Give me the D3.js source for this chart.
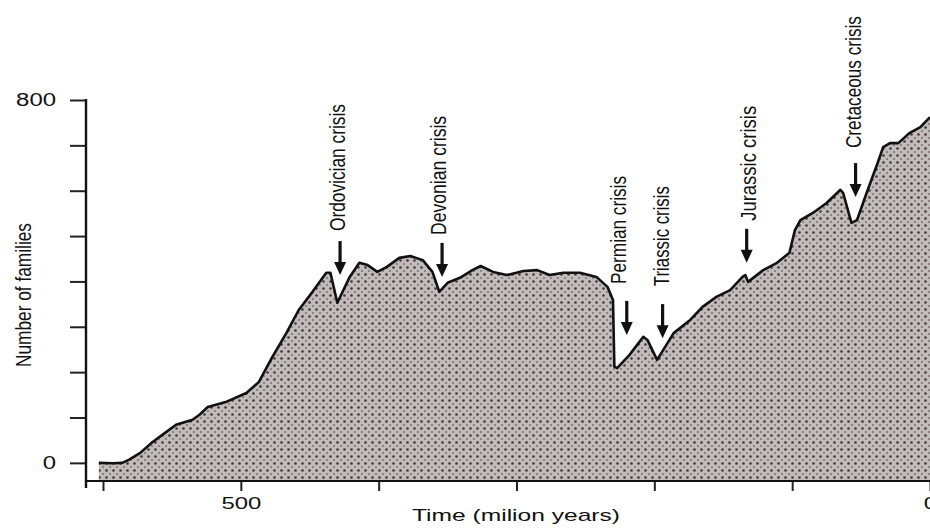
<!DOCTYPE html>
<html>
<head>
<meta charset="utf-8">
<script src="https://cdn.jsdelivr.net/npm/d3@7/dist/d3.min.js"></script>
<style>
  html, body { margin: 0; padding: 0; background: #fff; }
  svg { display: block; }
  text { font-family: "Liberation Sans", Arial, sans-serif; fill: #111; }
</style>
</head>
<body>
<svg id="chart" width="930" height="528"></svg>
<script>
// ---- data (time in million years ago, number of families) ----
const times = [603, 593, 586, 581, 573, 564, 555, 547, 535, 530, 524, 511, 496, 487, 477, 467, 458, 448, 438, 435, 430,
  421, 414, 408, 401, 394, 385, 377, 368, 361, 356, 350, 341, 332, 326, 317, 307, 295, 285, 276, 266, 254, 242, 234, 230,
  229, 227, 218, 208, 205, 198, 186, 174, 165, 155, 145, 136, 134, 132, 121, 111, 102, 98, 94, 85, 75, 65, 63, 57, 53,
  46, 38, 34, 29, 23, 15, 7, 0];
const families = [0, -1, 0, 7, 22, 46, 66, 84, 95, 106, 123, 134, 154, 178, 234, 286, 337, 377, 419, 419, 353,
  410, 441, 436, 421, 432, 452, 456, 447, 421, 377, 397, 408, 425, 434, 421, 414, 423, 425, 414, 419, 419, 410, 388, 359,
  212, 209, 238, 278, 271, 227, 286, 315, 344, 366, 381, 410, 414, 399, 425, 441, 463, 513, 535, 551, 573, 602, 595, 529, 535,
  595, 661, 696, 705, 705, 727, 740, 762];

const crisisNames = ["Ordovician crisis", "Devonian crisis", "Permian crisis", "Triassic crisis", "Jurassic crisis", "Cretaceous crisis"];
const crisisTimes = [428, 354, 220, 194, 133, 54];
const crisisTipValues = [414, 410, 282, 275, 441, 586];

const yTickValues = [0, 100, 200, 300, 400, 500, 600, 700, 800];
const yTickLabels = {0: "0", 800: "800"};
const xTickValues = [600, 500, 400, 300, 200, 100, 0];
const xTickLabels = {500: "500", 0: "0"};
const xTitle = "Time (milion years)";
const yTitle = "Number of families";

// ---- layout (not data) ----
const labelLayout = [
  {dx: 5, gap: 10, len: 127},
  {dx: 4, gap: 8, len: 119},
  {dx: -1, gap: 17, len: 108},
  {dx: 6, gap: 18, len: 100},
  {dx: 9, gap: 8, len: 115},
  {dx: 5, gap: 15, len: 132}
];
const arrowLen = 34;

const svg = d3.select("#chart");
const x = d3.scaleLinear().domain([600, 0]).range([103, 930]);
const y = d3.scaleLinear().domain([-40, 800]).range([481, 100]);

// pattern for halftone fill
const defs = svg.append("defs");
const pat = defs.append("pattern").attr("id", "dots").attr("patternUnits", "userSpaceOnUse")
  .attr("width", 7).attr("height", 7);
pat.append("rect").attr("width", 7).attr("height", 7).attr("fill", "#c0bcbc");
pat.append("circle").attr("cx", 1.5).attr("cy", 1.5).attr("r", 1.3).attr("fill", "#4a3232");
pat.append("circle").attr("cx", 5).attr("cy", 5).attr("r", 1.0).attr("fill", "#7d6e6e");

const pts = times.map((t, i) => [t, families[i]]);

const area = d3.area().x(d => x(d[0])).y0(y(-40)).y1(d => y(d[1]));
svg.append("path").datum(pts).attr("d", area).attr("fill", "url(#dots)");

const line = d3.line().x(d => x(d[0])).y(d => y(d[1]));
svg.append("path").datum(pts).attr("d", line).attr("fill", "none")
  .attr("stroke", "#111").attr("stroke-width", 2.6).attr("stroke-linejoin", "round");

// axes
const yAxis = d3.axisLeft(y).tickValues(yTickValues).tickSize(16).tickPadding(14)
  .tickFormat(d => yTickLabels[d] || "");
const gy = svg.append("g").attr("transform", "translate(86,0)").call(yAxis);
gy.select(".domain").remove();
gy.selectAll(".tick line").attr("stroke", "#222").attr("stroke-width", 2);
gy.selectAll(".tick text").attr("font-size", 18).attr("font-family", "Liberation Sans, Arial, sans-serif")
  .attr("fill", "#111")
  .each(function(d) {
    const s = yTickLabels[d];
    if (s) d3.select(this).attr("textLength", s.length * 13.3).attr("lengthAdjust", "spacingAndGlyphs");
  });

const xAxis = d3.axisBottom(x).tickValues(xTickValues).tickSize(10).tickPadding(6)
  .tickFormat(d => xTickLabels[d] !== undefined ? xTickLabels[d] : "");
const gx = svg.append("g").attr("transform", "translate(0,481)").call(xAxis);
gx.select(".domain").remove();
gx.selectAll(".tick line").attr("stroke", "#222").attr("stroke-width", 2);
gx.selectAll(".tick text").attr("font-size", 17).attr("font-family", "Liberation Sans, Arial, sans-serif")
  .attr("fill", "#111")
  .each(function(d) {
    const s = xTickLabels[d];
    if (s) d3.select(this).attr("textLength", s.length * 13.3).attr("lengthAdjust", "spacingAndGlyphs");
  });

// axis lines
svg.append("line").attr("x1", 86).attr("x2", 86).attr("y1", y(800) - 1).attr("y2", 488)
  .attr("stroke", "#111").attr("stroke-width", 2.4);
svg.append("line").attr("x1", 85).attr("x2", 930).attr("y1", 481).attr("y2", 481)
  .attr("stroke", "#111").attr("stroke-width", 2.2);

// axis titles
svg.append("text").attr("x", 516).attr("y", 521).attr("text-anchor", "middle")
  .attr("font-size", 17).attr("textLength", 208).attr("lengthAdjust", "spacingAndGlyphs").text(xTitle);
svg.append("text").attr("transform", "translate(31,295) rotate(-90)").attr("text-anchor", "middle")
  .attr("font-size", 22).attr("textLength", 144).attr("lengthAdjust", "spacingAndGlyphs").text(yTitle);

// crisis arrows and labels
crisisNames.forEach((name, i) => {
  const ax = x(crisisTimes[i]);
  const tip = y(crisisTipValues[i]);
  const top = tip - arrowLen;
  const g = svg.append("g");
  g.append("line").attr("x1", ax).attr("x2", ax).attr("y1", top).attr("y2", tip - 10)
    .attr("stroke", "#111").attr("stroke-width", 3.2);
  g.append("path").attr("d", `M${ax - 6},${tip - 13} L${ax + 6},${tip - 13} L${ax},${tip} Z`).attr("fill", "#111");
  const L = labelLayout[i];
  g.append("text").attr("transform", `translate(${ax + L.dx},${top - L.gap}) rotate(-90)`)
    .attr("text-anchor", "start").attr("font-size", 22)
    .attr("textLength", L.len).attr("lengthAdjust", "spacingAndGlyphs").text(name);
});
</script>
</body>
</html>
